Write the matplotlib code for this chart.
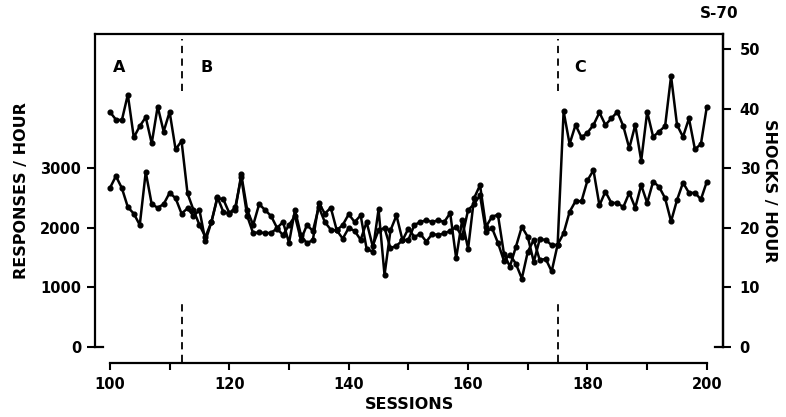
import numpy as np
import matplotlib
matplotlib.use("Agg")
import matplotlib.pyplot as plt

sessions = list(range(100, 201))

# Upper trace in phases A and C (shocks/hour, plotted in responses-equivalent units: 10 shocks = 1000)
shocks = [
    3950, 3820, 3810, 4240, 3520, 3710, 3860, 3420, 4040, 3620, 3950, 3320, 3460,
    2580, 2300, 2050, 1850, 2100, 2500, 2480, 2250, 2300, 2900, 2300, 2050, 2400,
    2300, 2200, 2000, 2100, 1750, 2300, 1880, 1740, 1800, 2420, 2240, 2340, 1960,
    2050, 2230, 2100, 2210, 1650, 1600, 2310, 1210, 1960, 2210, 1800, 1800, 2050,
    2100, 2130, 2100, 2130, 2100, 2250, 1490, 2130, 1650, 2500, 2720, 2020, 2190,
    2220, 1570, 1350, 1680, 2020, 1850, 1430, 1810, 1800, 1710, 1720,
    3960, 3410, 3730, 3520, 3600, 3730, 3940, 3730, 3840, 3950, 3710, 3340, 3730,
    3130, 3950, 3530, 3620, 3710, 4550, 3730, 3530, 3840, 3320, 3410, 4040,
]
# Lower trace in phases A and C (responses/hour)
responses = [
    2670, 2870, 2670, 2350, 2240, 2050, 2940, 2400, 2340, 2400, 2590, 2500, 2240,
    2330, 2200, 2300, 1780, 2100, 2520, 2270, 2240, 2350, 2850, 2200, 1910, 1930,
    1910, 1920, 1990, 1880, 2050, 2200, 1800, 2050, 1950, 2350, 2100, 1970, 1960,
    1820, 2000, 1950, 1800, 2100, 1700, 1960, 2000, 1660, 1700, 1790, 1990, 1850,
    1900, 1770, 1900, 1880, 1910, 1950, 2020, 1850, 2300, 2400, 2550, 1930, 2000,
    1750, 1450, 1550, 1400, 1150, 1600, 1800, 1460, 1480, 1270, 1720,
    1910, 2270, 2450, 2450, 2800, 2970, 2380, 2610, 2420, 2420, 2350, 2590, 2340,
    2720, 2420, 2780, 2690, 2500, 2110, 2470, 2760, 2590, 2590, 2480, 2780,
]

left_ticks = [0, 1000, 2000, 3000]
right_ticks = [0, 10, 20, 30, 40, 50]
x_major = [100, 120, 140, 160, 180, 200]
x_minor = [110, 130, 150, 170, 190]
phase_lines = [112, 175]
phase_labels = [("A", 100.5), ("B", 115.2), ("C", 177.8)]

plt.rcParams['font.family'] = ['DejaVu Sans']
plt.rcParams['font.weight'] = 'bold'

fig = plt.figure(figsize=(7.86, 4.17), dpi=100)
ax = fig.add_axes([95/786, 1-347/417, (723-95)/786, (347-34)/417])

ymax = 5258
ax.set_xlim(97.5, 202.7)
ax.set_ylim(0, ymax)

lw = 1.8
for ser in (shocks, responses):
    ax.plot(sessions, ser, color='black', lw=lw, marker='o', ms=3.4,
            markerfacecolor='black', markeredgecolor='black', zorder=3)

# phase dashed lines (top and bottom portions only)
for xp in phase_lines:
    ax.plot([xp, xp], [4300, ymax - 80], color='black', lw=1.3, ls=(0, (4, 3)), zorder=2)
    ax.plot([xp, xp], [-260, 720], color='black', lw=1.3, ls=(0, (4, 3)), zorder=2,
            clip_on=False)

for lab, xs in phase_labels:
    ax.text(xs, 4690, lab, fontsize=11.5, fontweight='bold', ha='left', va='center')

# spines
ax.spines['top'].set_linewidth(1.6)
ax.spines['left'].set_linewidth(1.6)
ax.spines['right'].set_linewidth(1.6)
ax.spines['bottom'].set_position(('outward', 11.3))
ax.spines['bottom'].set_bounds(100, 200)
ax.spines['bottom'].set_linewidth(1.6)
# small corner hooks at bottom of box
ax.plot([0, 0.012], [0, 0], transform=ax.transAxes, color='black', lw=1.6, clip_on=False)
ax.plot([0.988, 1], [0, 0], transform=ax.transAxes, color='black', lw=1.6, clip_on=False)

ax.set_xticks(x_major)
ax.set_xticks(x_minor, minor=True)
ax.tick_params(axis='x', which='both', direction='out', length=5, width=1.5,
               labelsize=10.5, pad=5)
ax.set_yticks(left_ticks)
ax.tick_params(axis='y', direction='out', length=6, width=1.5, labelsize=10.5, pad=4)
for t in ax.get_xticklabels() + ax.get_yticklabels():
    t.set_fontweight('bold')

ax.set_xlabel("SESSIONS", fontsize=11.5, fontweight='bold', labelpad=4)
ax.set_ylabel("RESPONSES / HOUR", fontsize=11.5, fontweight='bold', labelpad=8)

ax2 = ax.twinx()
ax2.set_ylim(0, ymax / 100)
ax2.set_yticks(right_ticks)
ax2.tick_params(axis='y', direction='out', length=6, width=1.5, labelsize=10.5, pad=6)
for t in ax2.get_yticklabels():
    t.set_fontweight('bold')
for sp in ('top', 'left', 'bottom'):
    ax2.spines[sp].set_visible(False)
ax2.spines['right'].set_linewidth(1.6)
ax2.set_ylabel("SHOCKS / HOUR", fontsize=11.5, fontweight='bold', rotation=-90,
               labelpad=12)

fig.text(719/786, 1-14/417, "S-70", fontsize=11, fontweight='bold', ha='center', va='center')

fig.savefig("out.png", dpi=100)
